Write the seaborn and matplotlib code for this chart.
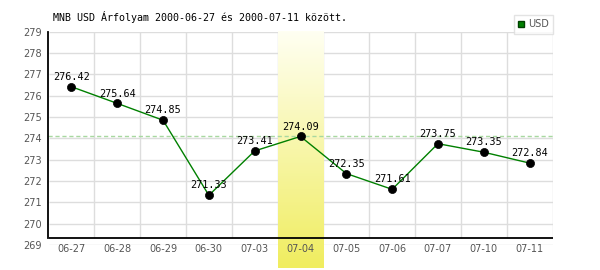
import numpy as np
import pandas as pd
import matplotlib
matplotlib.use('Agg')
import matplotlib.pyplot as plt
import seaborn as sns
from matplotlib.lines import Line2D

# ---- data ----
dates = ['06-27', '06-28', '06-29', '06-30', '07-03', '07-04',
         '07-05', '07-06', '07-07', '07-10', '07-11']
usd = [276.42, 275.64, 274.85, 271.33, 273.41, 274.09,
       272.35, 271.61, 273.75, 273.35, 272.84]
highlight = '07-04'
title = 'MNB USD Árfolyam 2000-06-27 és 2000-07-11 között.'
series_name = 'USD'
y_ticks = list(range(269, 280))

sns.set_theme(style='white')
plt.rcParams['font.family'] = ['DejaVu Sans Mono', 'DejaVu Sans']

W, H = 600, 270
fig = plt.figure(figsize=(W / 100, H / 100), dpi=100)
ax = fig.add_axes([48.5 / W, 1 - 245 / H, (552.5 - 48.5) / W, (245 - 31.7) / H])
ax.set_axisbelow(False)

df = pd.DataFrame({'date': dates, 'usd': usd})
df['pos'] = np.arange(len(dates))
n = len(dates)
ymin, ymax = y_ticks[0], y_ticks[-1]
axis_y = ymin + 0.32  # baseline drawn slightly above lowest gridline
ppu = (245 - 31.7) / (ymax - ymin)  # pixels per unit
band_bottom = ymin - (268 - 245) / ppu

# highlight band (gradient)
hi = dates.index(highlight)
top_c = np.array([255, 255, 242]) / 255
bot_c = np.array([240, 237, 95]) / 255
t = np.linspace(0, 1, 200)[:, None]
grad = (top_c[None, :] * (1 - t) + bot_c[None, :] * t)[:, None, :]
ax.imshow(grad, extent=(hi - 0.5, hi + 0.5, band_bottom, ymax),
          aspect='auto', clip_on=False, zorder=1, interpolation='bilinear')

# grid (drawn manually so it stays under the band)
ax.grid(False)
ax.hlines(y_ticks, -0.5, n - 0.5, color='#dddddd', lw=1, zorder=0.5)
ax.vlines(np.arange(n) + 0.5, axis_y, ymax, color='#dddddd', lw=1, zorder=0.6)

# reference dashed line at highlighted value
ax.axhline(usd[hi], color='#a8d8a0', lw=1, ls=(0, (3, 2)), zorder=1.5)

# baseline
ax.plot([-0.5, n - 0.5], [axis_y, axis_y], color='black', lw=1.3, zorder=2,
        clip_on=False, solid_capstyle='butt')

# series
sns.lineplot(data=df, x='pos', y='usd', color='#008000', lw=1, ax=ax, zorder=3)
sns.scatterplot(data=df, x='pos', y='usd', color='black', s=34,
                edgecolor='black', linewidth=0.5, ax=ax, zorder=4)

for x, v in zip(df['pos'], usd):
    ax.annotate(f'{v:.2f}', (x, v), xytext=(0, 3.5), textcoords='offset points',
                ha='center', va='bottom', fontsize=7.3, color='black',
                family='DejaVu Sans Mono', zorder=5)

ax.set_xlim(-0.5, n - 0.5)
ax.set_ylim(ymin, ymax)
ax.set_yticks(y_ticks)
ax.set_xticks(np.arange(n))
ax.set_xticklabels(dates)
ax.set_xlabel('')
ax.set_ylabel('')
ax.tick_params(axis='both', length=0, labelsize=7, colors='#555555')
ax.tick_params(axis='x', pad=-1)
ax.tick_params(axis='y', pad=5)
for lab in ax.get_xticklabels() + ax.get_yticklabels():
    lab.set_family('DejaVu Sans')

for s in ['top', 'right', 'bottom']:
    ax.spines[s].set_visible(False)
ax.spines['left'].set_color('black')
ax.spines['left'].set_linewidth(1.3)
ax.spines['left'].set_bounds(axis_y, ymax)

fig.text(53 / W, 1 - 17 / H, title, fontsize=7.2, color='black',
         family='DejaVu Sans Mono', ha='left', va='center')

handle = Line2D([], [], marker='s', color='#008000', markeredgecolor='#004000',
                markersize=5, linestyle='')
leg = fig.legend([handle], [series_name], loc='upper right',
                 bbox_to_anchor=(553 / W, 1 - 15 / H), frameon=True,
                 fancybox=False, edgecolor='#dddddd', fontsize=7,
                 handlelength=0.7, handletextpad=0.3, borderpad=0.45,
                 borderaxespad=0)
for txt in leg.get_texts():
    txt.set_color('#555555')
    txt.set_family('DejaVu Sans')
leg.get_frame().set_linewidth(1)

fig.savefig('out.png', dpi=100)
